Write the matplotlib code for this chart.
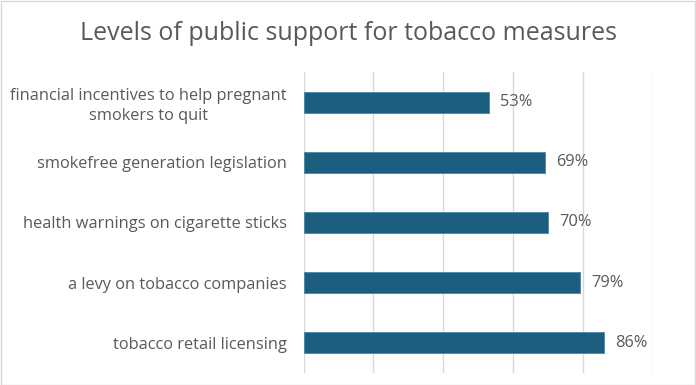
import matplotlib
matplotlib.use("Agg")
import matplotlib.pyplot as plt
from matplotlib.patches import Rectangle

categories = [
    "financial incentives to help pregnant\nsmokers to quit",
    "smokefree generation legislation",
    "health warnings on cigarette sticks",
    "a levy on tobacco companies",
    "tobacco retail licensing",
]
support = [53, 69, 70, 79, 86]

plt.rcParams['font.family'] = ['Open Sans', 'DejaVu Sans']
text_col = "#595959"

fig = plt.figure(figsize=(6.96, 3.85), dpi=100)
ax = fig.add_axes([303.5 / 696, 12 / 385, (653 - 303.5) / 696, 301 / 385])

ypos = list(range(len(categories)))
bars = ax.barh(ypos, support, height=0.35, color="#1B5E80", edgecolor="#4A86A6", linewidth=0.6, zorder=3)
ax.set_xlim(0, 100)
ax.set_ylim(len(categories) - 0.5, -0.5)
ax.set_xticks([0, 20, 40, 60, 80, 100])
ax.set_xticklabels([])
ax.tick_params(axis="x", length=0)
ax.tick_params(axis="y", length=0, pad=12, labelsize=11.8, labelcolor=text_col)
ax.set_yticks(ypos)
ax.set_yticklabels(categories, multialignment="center", linespacing=1.35)
ax.grid(axis="x", color="#D9D9D9", linewidth=1, zorder=0)
for s in ax.spines.values():
    s.set_visible(False)

for b, v in zip(bars, support):
    ax.text(b.get_width() + 3.3, b.get_y() + b.get_height() / 2, f"{v}%",
            va="center", ha="left", fontsize=11.8, color=text_col)

fig.text(0.5, 1 - 33 / 385, "Levels of public support for tobacco measures",
         ha="center", va="center", fontsize=18, color=text_col)

fig.patches.append(Rectangle((0.001, 0.001), 0.997, 0.997, transform=fig.transFigure,
                             fill=False, edgecolor="#D9D9D9", linewidth=1))

fig.savefig("out.png", dpi=100)
